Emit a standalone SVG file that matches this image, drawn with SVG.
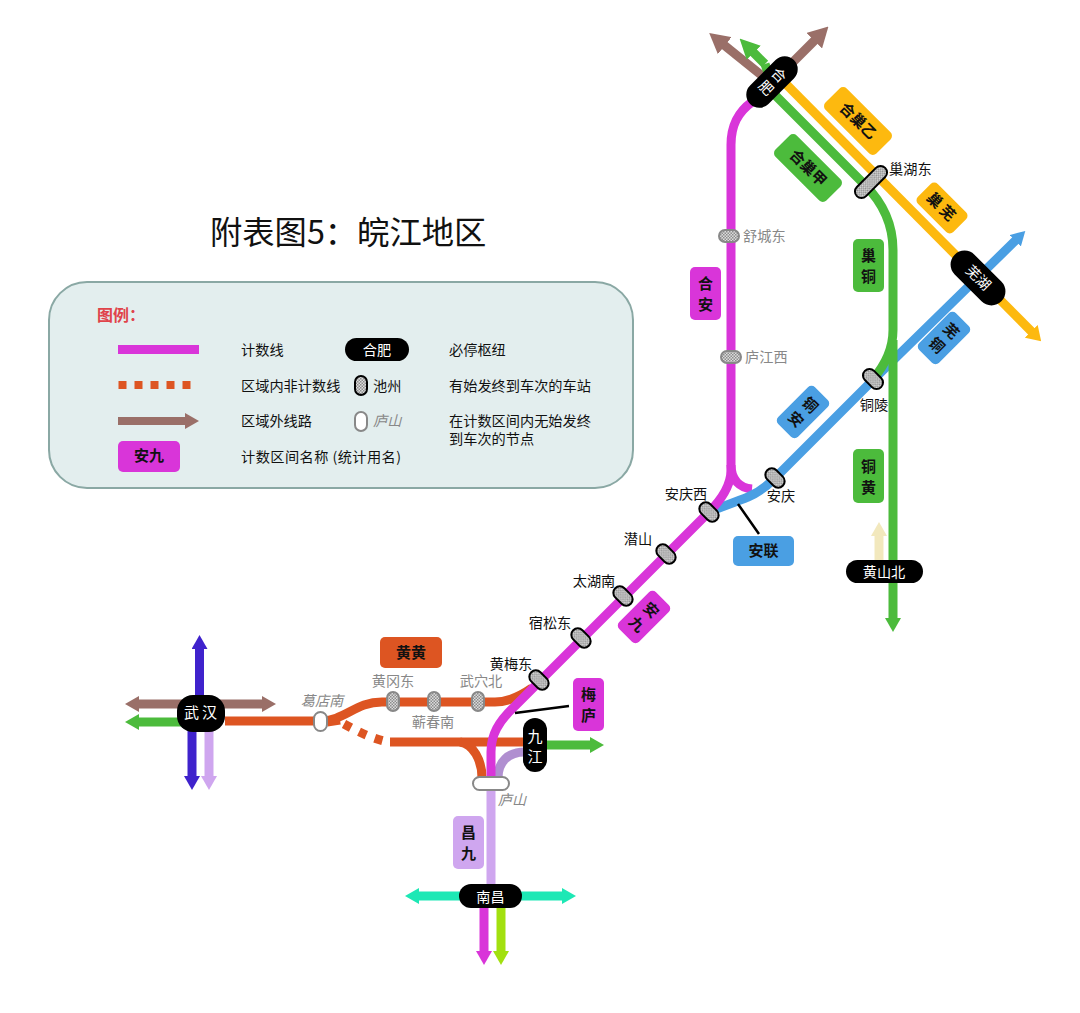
<svg xmlns="http://www.w3.org/2000/svg" width="1080" height="1013" viewBox="0 0 1080 1013">
<style>
text{font-family:"Noto Sans CJK SC","Noto Sans",sans-serif;font-size:14.2px;fill:#111;dominant-baseline:central;transform:translateY(-1.5px)}
.c{text-anchor:middle}
.g{fill:#888}
.i{font-style:italic;fill:#888}
.w{fill:#fff;text-anchor:middle}
.b{font-weight:700;font-size:15px;text-anchor:middle;fill:#111}
.l{fill:none;stroke-width:9}
.hub{fill:#000}
.st{fill:url(#h);stroke:#000;stroke-width:2}
.sg{fill:url(#h);stroke:#888;stroke-width:2}
.so{fill:#fff;stroke:#888;stroke-width:2}
.mg{fill:#d935d9}.gr{fill:#4cbb3c}.ye{fill:#fdb90f}.bl{fill:#4a9fe3}.or{fill:#dd5522}.li{fill:#cfa6ef}
</style>
<defs>
<pattern id="h" width="3" height="3" patternUnits="userSpaceOnUse"><rect width="3" height="3" fill="#dcdcdc"/><rect width="1.5" height="1.5" fill="#8c8c8c"/><rect x="1.5" y="1.5" width="1.5" height="1.5" fill="#8c8c8c"/></pattern>
<marker id="aBrL" viewBox="0 0 20 22" markerWidth="20" markerHeight="22" markerUnits="userSpaceOnUse" refX="1" refY="11" orient="auto-start-reverse"><path d="M0 0L20 11L0 22Z" fill="#9a6f68"/></marker>
<marker id="aGrL" viewBox="0 0 20 20" markerWidth="20" markerHeight="20" markerUnits="userSpaceOnUse" refX="1" refY="10" orient="auto-start-reverse"><path d="M0 0L20 10L0 20Z" fill="#4cbb3c"/></marker>
<marker id="aBr" viewBox="0 0 14 16" markerWidth="14" markerHeight="16" markerUnits="userSpaceOnUse" refX="1" refY="8" orient="auto-start-reverse"><path d="M0 0L14 8L0 16Z" fill="#9a6f68"/></marker>
<marker id="aGr" viewBox="0 0 14 16" markerWidth="14" markerHeight="16" markerUnits="userSpaceOnUse" refX="1" refY="8" orient="auto-start-reverse"><path d="M0 0L14 8L0 16Z" fill="#4cbb3c"/></marker>
<marker id="aYe" viewBox="0 0 14 18" markerWidth="14" markerHeight="18" markerUnits="userSpaceOnUse" refX="1" refY="9" orient="auto-start-reverse"><path d="M0 0L14 9L0 18Z" fill="#fdb90f"/></marker>
<marker id="aBl" viewBox="0 0 14 16" markerWidth="14" markerHeight="16" markerUnits="userSpaceOnUse" refX="1" refY="8" orient="auto-start-reverse"><path d="M0 0L14 8L0 16Z" fill="#4a9fe3"/></marker>
<marker id="aCr" viewBox="0 0 14 16" markerWidth="14" markerHeight="16" markerUnits="userSpaceOnUse" refX="1" refY="8" orient="auto-start-reverse"><path d="M0 0L14 8L0 16Z" fill="#f2e8bd"/></marker>
<marker id="aPu" viewBox="0 0 14 16" markerWidth="14" markerHeight="16" markerUnits="userSpaceOnUse" refX="1" refY="8" orient="auto-start-reverse"><path d="M0 0L14 8L0 16Z" fill="#3f22cc"/></marker>
<marker id="aLi" viewBox="0 0 14 16" markerWidth="14" markerHeight="16" markerUnits="userSpaceOnUse" refX="1" refY="8" orient="auto-start-reverse"><path d="M0 0L14 8L0 16Z" fill="#cfa6ef"/></marker>
<marker id="aTe" viewBox="0 0 14 16" markerWidth="14" markerHeight="16" markerUnits="userSpaceOnUse" refX="1" refY="8" orient="auto-start-reverse"><path d="M0 0L14 8L0 16Z" fill="#1de8b5"/></marker>
<marker id="aMg" viewBox="0 0 14 16" markerWidth="14" markerHeight="16" markerUnits="userSpaceOnUse" refX="1" refY="8" orient="auto-start-reverse"><path d="M0 0L14 8L0 16Z" fill="#d935d9"/></marker>
<marker id="aLm" viewBox="0 0 14 16" markerWidth="14" markerHeight="16" markerUnits="userSpaceOnUse" refX="1" refY="8" orient="auto-start-reverse"><path d="M0 0L14 8L0 16Z" fill="#a2e00f"/></marker>
</defs>
<rect width="1080" height="1013" fill="#fff"/>
<text id="title" x="210" y="231" style="font-size:32.300px;font-weight:400">附表图5：皖江地区</text>
<g id="legend">
<rect x="49" y="282" width="584" height="206" rx="38" fill="#e3eeee" stroke="#8aa8a4" stroke-width="2"/>
<text x="97" y="315" style="font-size:16px;font-weight:700;fill:#e0434a">图例：</text>
<rect x="118" y="345" width="81" height="9" fill="#d935d9"/>
<path d="M118.500 385H191" stroke="#dd5522" stroke-width="8" stroke-dasharray="8 8" fill="none"/>
<path d="M118 421H186" stroke="#9a6f68" stroke-width="8" fill="none" marker-end="url(#aBr)"/>
<rect x="118" y="441" width="62" height="31" rx="5" class="mg"/>
<text x="149" y="456" class="b">安九</text>
<text x="241" y="350">计数线</text>
<text x="241" y="386">区域内非计数线</text>
<text x="241" y="421">区域外线路</text>
<text x="241" y="457" textLength="160">计数区间名称 (统计用名)</text>
<rect x="345" y="338" width="64" height="23" rx="11.500" class="hub"/>
<text x="377" y="350" class="w">合肥</text>
<rect x="355" y="376" width="12" height="19" rx="6" class="st"/>
<text x="373" y="386">池州</text>
<rect x="355" y="412" width="12" height="19" rx="6" class="so"/>
<text x="373" y="421" class="i">庐山</text>
<text x="449" y="350">必停枢纽</text>
<text x="449" y="386">有始发终到车次的车站</text>
<text><tspan x="449" y="421">在计数区间内无始发终</tspan><tspan x="449" y="439">到车次的节点</tspan></text>
</g>
<g id="connectors">
<path class="l" stroke="#9a6f68" d="M770 82L724 45" marker-end="url(#aBrL)"/>
<path class="l" stroke="#9a6f68" d="M775 80L815 40" marker-end="url(#aBrL)"/>
<path class="l" stroke="#d935d9" d="M731 465C731 480 740 488 752 489"/>
<path class="l" stroke="#4a9fe3" d="M711 511C725 506 735 502 748 497C760 492 768 485 775 478L873 380L1016 240" marker-end="url(#aBl)"/>
<path class="l" stroke="#fdb90f" d="M780 78L1032 332" marker-end="url(#aYe)"/>
<path class="l" stroke="#4cbb3c" d="M765 64L753 52" marker-end="url(#aGrL)"/>
<path class="l" stroke="#4cbb3c" d="M765 64L776 96L865 185C883 203 893 225 893 250V330C893 350 885 365 873 379"/>
<path class="l" stroke="#4cbb3c" d="M893 340V619" marker-end="url(#aGr)"/>
<path class="l" stroke="#f2e8bd" d="M879 565V535" marker-end="url(#aCr)"/>
<path class="l" stroke="#dd5522" d="M225 721H320C345 721 355 702 382 702H495C510 702 522 695 532 688"/>
<path class="l" stroke="#dd5522" d="M327 722L340 720"/>
<path class="l" stroke="#dd5522" stroke-dasharray="8 9" d="M344 724C355 730 368 737 384 741"/>
<path class="l" stroke="#dd5522" d="M390 742H525"/>
<path class="l" stroke="#dd5522" d="M460 742C473 744 482 760 482 778"/>
<path class="l" stroke="#b08fd0" d="M525 752C508 752 498 762 498 778"/>
<path class="l" stroke="#cfa6ef" d="M491 783V890"/>
<path class="l" stroke="#d935d9" d="M752 102C738 112 731 125 731 145V470C731 485 722 499 709 512L515 706C498 722 491 735 491 752V778"/>
<path class="l" stroke="#4cbb3c" d="M545 745H591" marker-end="url(#aGr)"/>
<path class="l" stroke="#3f22cc" d="M199.500 700V648" marker-end="url(#aPu)"/>
<path class="l" stroke="#3f22cc" d="M192 725V777" marker-end="url(#aPu)"/>
<path class="l" stroke="#cfa6ef" d="M209 725V777" marker-end="url(#aLi)"/>
<path class="l" stroke="#9a6f68" d="M138 704H263" marker-start="url(#aBr)" marker-end="url(#aBr)"/>
<path class="l" stroke="#4cbb3c" d="M190 722H138" marker-end="url(#aGr)"/>
<path class="l" stroke="#1de8b5" d="M418 896H563" marker-start="url(#aTe)" marker-end="url(#aTe)"/>
<path class="l" stroke="#d935d9" d="M484 905V952" marker-end="url(#aMg)"/>
<path class="l" stroke="#a2e00f" d="M501 905V952" marker-end="url(#aLm)"/>
<path d="M738 504L759 534M515 713L569 706" stroke="#000" stroke-width="2.500" fill="none"/>
</g>
<g id="n-hefei" transform="translate(772 82) rotate(45)"><rect x="-13" y="-31" width="26" height="62" rx="13" class="hub"/><text class="w"><tspan x="0" y="-9">合</tspan><tspan x="0" y="9">肥</tspan></text></g>
<g id="n-wuhu" transform="translate(978 278) rotate(45)"><rect x="-33" y="-14" width="66" height="28" rx="14" class="hub"/><text x="0" y="0" class="w">芜湖</text></g>
<g id="n-huangshanbei"><rect x="846" y="560" width="77" height="23" rx="11.500" class="hub"/><text x="884" y="572" class="w">黄山北</text></g>
<g id="n-wuhan"><rect x="177" y="695" width="48" height="37" rx="16" class="hub"/><text x="202" y="713" class="w" style="font-size:15px;letter-spacing:3px">武汉</text></g>
<g id="n-jiujiang"><rect x="523" y="718" width="24" height="54" rx="12" class="hub"/><text class="w" style="font-size:15px"><tspan x="535" y="736">九</tspan><tspan x="535" y="756">江</tspan></text></g>
<g id="n-nanchang"><rect x="459" y="884" width="63" height="24" rx="12" class="hub"/><text x="490.500" y="897" class="w">南昌</text></g>
<g id="s-shucheng"><rect x="719" y="230" width="20" height="12" rx="6" class="sg"/><text x="743" y="236" class="g">舒城东</text></g>
<g id="s-lujiang"><rect x="721" y="351" width="20" height="12" rx="6" class="sg"/><text x="745" y="357" class="g">庐江西</text></g>
<g id="s-chaohu"><rect x="-20" y="-6.500" width="40" height="13" rx="6.500" class="st" transform="translate(871 182) rotate(-45)"/><text x="889" y="169">巢湖东</text></g>
<g id="s-tongling"><rect x="-11.500" y="-6.500" width="23" height="13" rx="6.500" class="st" transform="translate(873 379) rotate(45)"/><text x="874" y="405" class="c">铜陵</text></g>
<g id="s-anqing"><rect x="-11" y="-6.500" width="22" height="13" rx="6.500" class="st" transform="translate(775 478) rotate(45)"/><text x="781" y="496" class="c">安庆</text></g>
<g id="s-anqingxi"><rect x="-11" y="-6.500" width="22" height="13" rx="6.500" class="st" transform="translate(709 512) rotate(45)"/><text x="686" y="494" class="c">安庆西</text></g>
<g id="s-qianshan"><rect x="-11" y="-6.500" width="22" height="13" rx="6.500" class="st" transform="translate(666 554) rotate(45)"/><text x="638" y="539" class="c">潜山</text></g>
<g id="s-taihu"><rect x="-11" y="-6.500" width="22" height="13" rx="6.500" class="st" transform="translate(623 596) rotate(45)"/><text x="594" y="581" class="c">太湖南</text></g>
<g id="s-susong"><rect x="-11" y="-6.500" width="22" height="13" rx="6.500" class="st" transform="translate(581 638) rotate(45)"/><text x="550" y="623" class="c">宿松东</text></g>
<g id="s-huangmei"><rect x="-11" y="-6.500" width="22" height="13" rx="6.500" class="st" transform="translate(539 680) rotate(45)"/><text x="511" y="664" class="c">黄梅东</text></g>
<g id="s-huanggang"><rect x="387" y="692" width="12" height="19" rx="6" class="sg"/><text x="393" y="681" class="c g">黄冈东</text></g>
<g id="s-qichun"><rect x="428" y="692" width="12" height="19" rx="6" class="sg"/><text x="433" y="722" class="c g">蕲春南</text></g>
<g id="s-wuxue"><rect x="472" y="692" width="12" height="19" rx="6" class="sg"/><text x="481" y="681" class="c g">武穴北</text></g>
<g id="s-gedian"><rect x="314" y="712" width="13" height="19" rx="6.500" class="so"/><text x="322" y="701" class="c i">葛店南</text></g>
<g id="s-lushan"><rect x="473" y="777" width="36" height="13" rx="6.500" class="so"/><text x="512" y="800" class="c i">庐山</text></g>
<g id="l-hechaoyi" transform="translate(858 121) rotate(45)"><rect x="-36" y="-15" width="72" height="30" rx="5" class="ye"/><text x="0" y="0" class="b">合巢乙</text></g>
<g id="l-hechaojia" transform="translate(808 168) rotate(45)"><rect x="-36" y="-15" width="72" height="30" rx="5" class="gr"/><text x="0" y="0" class="b">合巢甲</text></g>
<g id="l-chaowu" transform="translate(942 208) rotate(45)"><rect x="-25" y="-14" width="50" height="28" rx="5" class="ye"/><text x="0" y="0" class="b" style="letter-spacing:3px">巢芜</text></g>
<g id="l-chaotong"><rect x="853" y="239" width="31" height="53" rx="5" class="gr"/><text class="b"><tspan x="868.500" y="255">巢</tspan><tspan x="868.500" y="276">铜</tspan></text></g>
<g id="l-wutong" transform="translate(944 338) rotate(45)"><rect x="-14" y="-26" width="28" height="52" rx="5" class="bl"/><text class="b"><tspan x="0" y="-10">芜</tspan><tspan x="0" y="10">铜</tspan></text></g>
<g id="l-tongan" transform="translate(803 412) rotate(45)"><rect x="-14" y="-26" width="28" height="52" rx="5" class="bl"/><text class="b"><tspan x="0" y="-10">铜</tspan><tspan x="0" y="10">安</tspan></text></g>
<g id="l-hean"><rect x="690" y="267" width="31" height="53" rx="5" class="mg"/><text class="b"><tspan x="705.500" y="283">合</tspan><tspan x="705.500" y="304">安</tspan></text></g>
<g id="l-tonghuang"><rect x="853" y="449" width="31" height="54" rx="5" class="gr"/><text class="b"><tspan x="868.500" y="466">铜</tspan><tspan x="868.500" y="487">黄</tspan></text></g>
<g id="l-anlian"><rect x="733" y="536" width="61" height="30" rx="5" class="bl"/><text x="763.500" y="551" class="b">安联</text></g>
<g id="l-anjiu" transform="translate(644 617) rotate(45)"><rect x="-14" y="-26" width="28" height="52" rx="5" class="mg"/><text class="b"><tspan x="0" y="-10">安</tspan><tspan x="0" y="10">九</tspan></text></g>
<g id="l-meilu"><rect x="573" y="678" width="31" height="53" rx="5" class="mg"/><text class="b"><tspan x="588.500" y="694">梅</tspan><tspan x="588.500" y="715">庐</tspan></text></g>
<g id="l-huanghuang"><rect x="380" y="637" width="62" height="31" rx="5" class="or"/><text x="411" y="653" class="b">黄黄</text></g>
<g id="l-changjiu"><rect x="453" y="816" width="31" height="53" rx="5" class="li"/><text class="b"><tspan x="468.500" y="832">昌</tspan><tspan x="468.500" y="853">九</tspan></text></g>
</svg>
